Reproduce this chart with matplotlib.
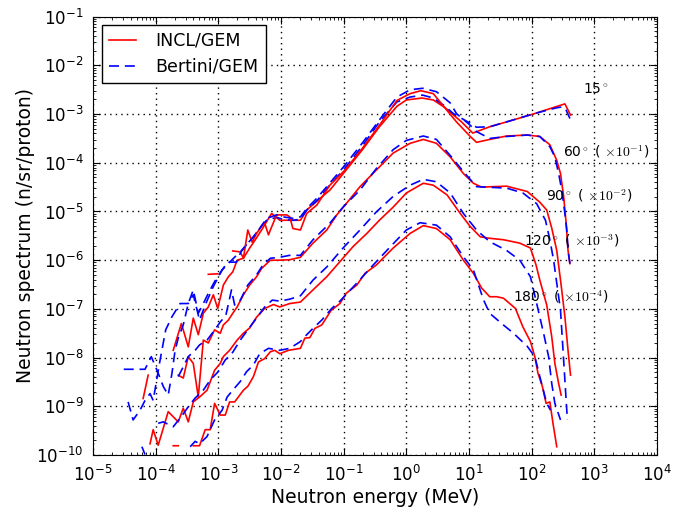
import numpy as np
import matplotlib
matplotlib.use('Agg')
import matplotlib.pyplot as plt
from matplotlib.ticker import LogLocator, NullFormatter

nan = np.nan

# curves as (log10 E [MeV], log10 spectrum), nan = gap
incl_15 = [(-3.72, -7.85), (-3.59, -7.30), (-3.48, -7.78), (-3.40, -7.19), (-3.32, -7.53),
           (-3.24, -7.09), (-3.16, -6.96), (-3.08, -6.71), (-3.01, -6.99), (-2.92, -6.51),
           (-2.84, -6.34), (-2.77, -6.24), (-2.70, -6.00), (-2.60, -5.96), (-2.50, -5.75),
           (-2.41, -5.58), (-2.31, -5.38), (-2.23, -5.21), (-2.15, -5.04), (-2.02, -5.18),
           (-1.83, -5.18), (-1.69, -5.18), (-1.59, -4.97), (-1.43, -4.79), (-1.22, -4.56),
           (-0.98, -4.18), (-0.70, -3.73), (-0.43, -3.26), (-0.15, -2.84), (0.00, -2.71),
           (0.25, -2.67), (0.43, -2.71), (0.62, -2.87), (0.88, -3.16), (1.06, -3.39),
           (1.33, -3.26), (1.60, -3.16), (2.02, -3.00), (2.53, -2.79), (2.62, -3.02)]
bert_15 = [(-4.51, -8.24), (-4.17, -8.24), (-4.07, -7.98), (-3.96, -8.32), (-3.88, -8.59),
           (-3.80, -8.77), (-3.74, -8.32), (-3.69, -7.85), (-3.64, -7.60), (-3.56, -7.33),
           (-3.48, -6.89), (-3.40, -6.61), (-3.32, -7.09), (-3.24, -6.89), (-3.16, -6.68),
           (-3.06, -6.44), (-2.94, -6.20), (-2.82, -6.04), (-2.71, -5.90), (-2.62, -5.80),
           (-2.55, -5.68), (-2.44, -5.52), (-2.34, -5.34), (-2.23, -5.18), (-2.07, -5.12),
           (-1.97, -5.16), (-1.81, -5.18), (-1.69, -5.16), (-1.59, -4.97), (-1.42, -4.77),
           (-1.25, -4.50), (-0.98, -4.11), (-0.70, -3.65), (-0.43, -3.16), (-0.15, -2.75),
           (0.06, -2.65), (0.26, -2.61), (0.43, -2.67), (0.62, -2.84), (0.75, -2.99),
           (1.02, -3.19), (1.12, -3.27), (1.33, -3.26), (1.60, -3.16), (1.86, -3.06),
           (2.13, -2.96), (2.40, -2.87), (2.50, -2.85), (2.55, -2.92), (2.61, -3.09)]

incl_60 = [(-4.20, -8.84), (-4.12, -8.36), (-3.70, nan), (-3.16, -6.29), (-3.01, -6.28),
           (-2.87, nan), (-2.77, -5.81), (-2.65, -5.83), (-2.60, -5.96), (-2.53, -5.38),
           (-2.46, -5.63), (-2.39, -5.45), (-2.31, -5.30), (-2.26, -5.24), (-2.20, -5.48),
           (-2.17, -5.38), (-2.07, -5.07), (-1.91, -5.07), (-1.86, -5.11), (-1.81, -5.35),
           (-1.69, -5.38), (-1.59, -5.04), (-1.43, -4.87), (-1.22, -4.46), (-0.98, -4.15),
           (-0.70, -3.70), (-0.43, -3.23), (-0.15, -2.72), (0.06, -2.58), (0.23, -2.52),
           (0.43, -2.58), (0.62, -2.88), (0.80, -3.16), (1.02, -3.46), (1.12, -3.58),
           (1.33, -3.52), (1.60, -3.45), (1.93, -3.43), (2.13, -3.46), (2.29, -3.63),
           (2.40, -3.95), (2.46, -4.22), (2.51, -4.69), (2.55, -5.24), (2.58, -5.80),
           (2.61, -6.07)]
bert_60 = [(-4.44, -8.91), (-4.36, -9.28), (-4.25, -9.08), (-4.17, -8.88), (-4.09, -8.74),
           (-4.04, -8.88), (-3.93, -8.05), (-3.84, -7.43), (-3.74, -7.16), (-3.61, -6.89),
           (-3.48, -6.89), (-3.40, -6.71), (-3.30, -7.23), (-3.21, -6.92), (-3.08, -6.54),
           (-2.94, -6.20), (-2.85, -6.04), (-2.71, -6.04), (-2.63, -5.80), (-2.55, -5.68),
           (-2.44, -5.52), (-2.34, -5.35), (-2.23, -5.14), (-2.07, -5.07), (-1.97, -5.11),
           (-1.81, -5.14), (-1.69, -5.11), (-1.59, -4.94), (-1.43, -4.73), (-1.25, -4.46),
           (-0.98, -4.05), (-0.70, -3.59), (-0.43, -3.12), (-0.15, -2.65), (0.06, -2.50),
           (0.26, -2.47), (0.48, -2.54), (0.70, -2.77), (0.80, -2.99), (1.02, -3.23),
           (1.12, -3.36), (1.33, -3.50), (1.60, -3.46), (1.93, -3.43), (2.13, -3.46),
           (2.29, -3.67), (2.37, -3.88), (2.43, -4.22), (2.48, -4.56), (2.53, -5.04),
           (2.56, -5.38), (2.58, -5.80), (2.61, -6.07)]

incl_90 = [(-3.64, -8.36), (-3.56, -8.42), (-3.48, -7.98), (-3.40, -8.12), (-3.32, -8.81),
           (-3.24, -7.64), (-3.16, -7.70), (-3.06, -7.43), (-2.97, -7.50), (-2.92, -7.33),
           (-2.84, -7.23), (-2.77, -7.09), (-2.70, -6.96), (-2.60, -6.71), (-2.50, -6.51),
           (-2.39, -6.34), (-2.31, -6.17), (-2.17, -6.00), (-2.02, -6.00), (-1.86, -5.99),
           (-1.69, -5.94), (-1.49, -5.65), (-1.27, -5.38), (-1.11, -5.07), (-0.96, -4.84),
           (-0.74, -4.49), (-0.48, -4.15), (-0.21, -3.80), (0.06, -3.60), (0.27, -3.52),
           (0.48, -3.60), (0.70, -3.88), (0.91, -4.22), (1.07, -4.42), (1.20, -4.50),
           (1.39, -4.49), (1.60, -4.48), (1.93, -4.59), (2.13, -4.81), (2.24, -4.97),
           (2.32, -5.34), (2.40, -5.80), (2.47, -6.51), (2.53, -7.16), (2.58, -7.85),
           (2.62, -8.36)]
bert_90 = [(-3.64, -8.39), (-3.56, -8.19), (-3.48, -7.98), (-3.37, -7.85), (-3.30, -7.74),
           (-3.18, -7.64), (-3.08, -7.47), (-2.97, -7.27), (-2.88, -7.13), (-2.79, -6.61),
           (-2.74, -6.92), (-2.65, -6.82), (-2.53, -6.51), (-2.39, -6.30), (-2.29, -6.10),
           (-2.17, -5.96), (-2.02, -5.94), (-1.86, -5.90), (-1.69, -5.90), (-1.49, -5.58),
           (-1.22, -5.24), (-1.01, -4.91), (-0.74, -4.56), (-0.48, -4.12), (-0.21, -3.73),
           (0.00, -3.54), (0.27, -3.45), (0.48, -3.52), (0.70, -3.85), (0.91, -4.18),
           (1.12, -4.49), (1.28, -4.50), (1.60, -4.52), (1.86, -4.62), (2.08, -4.84),
           (2.22, -5.18), (2.29, -5.58), (2.35, -6.00), (2.40, -6.47), (2.46, -7.03),
           (2.49, -7.64), (2.52, -8.26), (2.55, -8.88), (2.57, -9.28)]

incl_120 = [(-4.09, -9.77), (-4.04, -9.48), (-3.96, -9.80), (-3.80, -9.11), (-3.64, -9.32),
            (-3.56, -9.04), (-3.48, -9.32), (-3.40, -8.91), (-3.30, -8.81), (-3.18, -8.67),
            (-3.06, -8.26), (-2.97, -8.12), (-2.92, -7.98), (-2.82, -7.85), (-2.70, -7.64),
            (-2.60, -7.50), (-2.50, -7.39), (-2.39, -7.17), (-2.26, -6.99), (-2.12, -6.91),
            (-2.02, -6.96), (-1.86, -6.89), (-1.69, -6.86), (-1.49, -6.61), (-1.27, -6.34),
            (-1.06, -6.03), (-0.85, -5.72), (-0.63, -5.45), (-0.43, -5.18), (-0.21, -4.91),
            (0.00, -4.62), (0.27, -4.42), (0.43, -4.46), (0.65, -4.66), (0.86, -5.04),
            (1.02, -5.31), (1.18, -5.52), (1.33, -5.55), (1.55, -5.58), (1.81, -5.65),
            (1.98, -5.75), (2.07, -6.10), (2.13, -6.41), (2.24, -6.92), (2.32, -7.57),
            (2.37, -8.12), (2.43, -8.53), (2.47, -8.77)]
bert_120 = [(-3.96, -9.35), (-3.88, -9.32), (-3.72, -9.42), (-3.59, -9.21), (-3.48, -9.01),
            (-3.37, -8.83), (-3.24, -8.67), (-3.13, -8.46), (-3.01, -8.30), (-2.89, -8.05),
            (-2.77, -7.89), (-2.65, -7.64), (-2.53, -7.43), (-2.39, -7.19), (-2.26, -6.96),
            (-2.14, -6.82), (-2.02, -6.84), (-1.86, -6.80), (-1.69, -6.73), (-1.49, -6.41),
            (-1.27, -6.14), (-1.01, -5.75), (-0.74, -5.38), (-0.48, -5.01), (-0.21, -4.69),
            (0.06, -4.46), (0.27, -4.34), (0.48, -4.39), (0.70, -4.62), (0.91, -5.04),
            (1.12, -5.38), (1.33, -5.62), (1.60, -5.80), (1.81, -6.00), (1.98, -6.34),
            (2.08, -6.89), (2.19, -7.50), (2.27, -7.98), (2.32, -8.53), (2.37, -8.94),
            (2.46, -9.28)]

incl_180 = [(-3.72, -9.81), (-3.64, -9.81), (-3.49, nan), (-3.40, -9.81), (-3.30, -9.81),
            (-3.21, -9.48), (-3.13, -9.48), (-3.06, -8.94), (-2.97, -9.18), (-2.89, -9.18),
            (-2.82, -8.91), (-2.74, -8.91), (-2.60, -8.67), (-2.53, -8.59), (-2.44, -8.39),
            (-2.36, -8.09), (-2.26, -8.02), (-2.17, -7.88), (-2.10, -7.85), (-2.02, -7.92),
            (-1.88, -7.85), (-1.69, -7.81), (-1.62, -7.60), (-1.54, -7.59), (-1.46, -7.40),
            (-1.35, -7.33), (-1.20, -7.03), (-1.06, -6.89), (-0.96, -6.68), (-0.79, -6.51),
            (-0.66, -6.27), (-0.48, -6.10), (-0.21, -5.75), (0.06, -5.45), (0.27, -5.29),
            (0.48, -5.35), (0.70, -5.58), (0.91, -6.00), (1.07, -6.27), (1.20, -6.57),
            (1.33, -6.75), (1.44, -6.75), (1.55, -6.78), (1.74, -6.99), (1.86, -7.37),
            (1.98, -7.67), (2.05, -7.98), (2.10, -8.32), (2.17, -8.59), (2.23, -8.94),
            (2.29, -8.91), (2.34, -9.35), (2.40, -9.83)]
bert_180 = [(-4.22, -9.83), (-4.17, -9.99), (-3.81, nan), (-3.45, -9.83), (-3.37, -9.72),
            (-3.30, -9.77), (-3.18, -9.62), (-3.06, -9.28), (-2.94, -9.08), (-2.86, -8.81),
            (-2.77, -8.67), (-2.65, -8.49), (-2.55, -8.29), (-2.44, -8.15), (-2.34, -7.92),
            (-2.20, -7.81), (-2.02, -7.85), (-1.86, -7.81), (-1.69, -7.67), (-1.62, -7.57),
            (-1.49, -7.40), (-1.35, -7.23), (-1.19, -6.99), (-1.06, -6.84), (-0.79, -6.47),
            (-0.53, -6.10), (-0.26, -5.73), (0.00, -5.38), (0.22, -5.23), (0.48, -5.28),
            (0.70, -5.52), (0.91, -5.93), (1.07, -6.20), (1.23, -6.81), (1.33, -7.09),
            (1.52, -7.30), (1.71, -7.50), (1.93, -7.77), (2.05, -7.98), (2.13, -8.39),
            (2.24, -8.94), (2.30, -9.08)]

angle_labels = ['15$^\\circ$',
                '60$^\\circ$ ( $\\times10^{-1}$)',
                '90$^\\circ$ ( $\\times10^{-2}$)',
                '120$^\\circ$ ( $\\times10^{-3}$)',
                '180$^\\circ$ ( $\\times10^{-4}$)']
label_pos = [(2.82, -2.51), (2.50, -3.78), (2.23, -4.68), (1.88, -5.59), (1.70, -6.74)]


def unpack(pts):
    a = np.array(pts, dtype=float)
    return 10 ** a[:, 0], 10 ** a[:, 1]


plt.rcParams['font.size'] = 12.5
fig = plt.figure(figsize=(6.74, 5.09), dpi=100)
ax = fig.add_axes([0.138, 0.1061, 0.8368, 0.8611])

incl = [incl_15, incl_60, incl_90, incl_120, incl_180]
bert = [bert_15, bert_60, bert_90, bert_120, bert_180]
for i in range(5):
    x, y = unpack(incl[i])
    ax.plot(x, y, color='r', lw=1.2, label='INCL/GEM' if i == 0 else None)
    x, y = unpack(bert[i])
    ax.plot(x, y, color='b', lw=1.2, dashes=(6, 3.5),
            label='Bertini/GEM' if i == 0 else None)

for txt, (lx, ly) in zip(angle_labels, label_pos):
    ax.text(10 ** lx, 10 ** ly, txt, fontsize=10, ha='left', va='center',
            math_fontfamily='cm')

ax.set_xscale('log')
ax.set_yscale('log')
ax.set_xlim(1e-5, 1e4)
ax.set_ylim(1e-10, 1e-1)
ax.xaxis.set_major_locator(LogLocator(base=10, numticks=30))
ax.yaxis.set_major_locator(LogLocator(base=10, numticks=30))
for axis in (ax.xaxis, ax.yaxis):
    axis.set_minor_locator(LogLocator(base=10, subs=np.arange(2, 10), numticks=100))
    axis.set_minor_formatter(NullFormatter())
ax.tick_params(which='both', direction='in', top=True, right=True)
ax.tick_params(which='major', length=5, labelsize=12, pad=7)
ax.tick_params(which='minor', length=2.5)
ax.grid(True, which='major', color='k', linestyle=(0, (1, 3)), linewidth=1.0)

ax.set_xlabel('Neutron energy (MeV)', fontsize=13.5, labelpad=2)
ax.set_ylabel('Neutron spectrum (n/sr/proton)', fontsize=13.5, labelpad=1)

leg = ax.legend(loc='upper left', bbox_to_anchor=(0.0154, 0.981), borderaxespad=0,
                fancybox=False, edgecolor='k', framealpha=1, fontsize=12.5,
                handlelength=1.6, handletextpad=1.1, labelspacing=0.45)
leg.get_frame().set_linewidth(1.0)

fig.savefig('out.png', dpi=100)
